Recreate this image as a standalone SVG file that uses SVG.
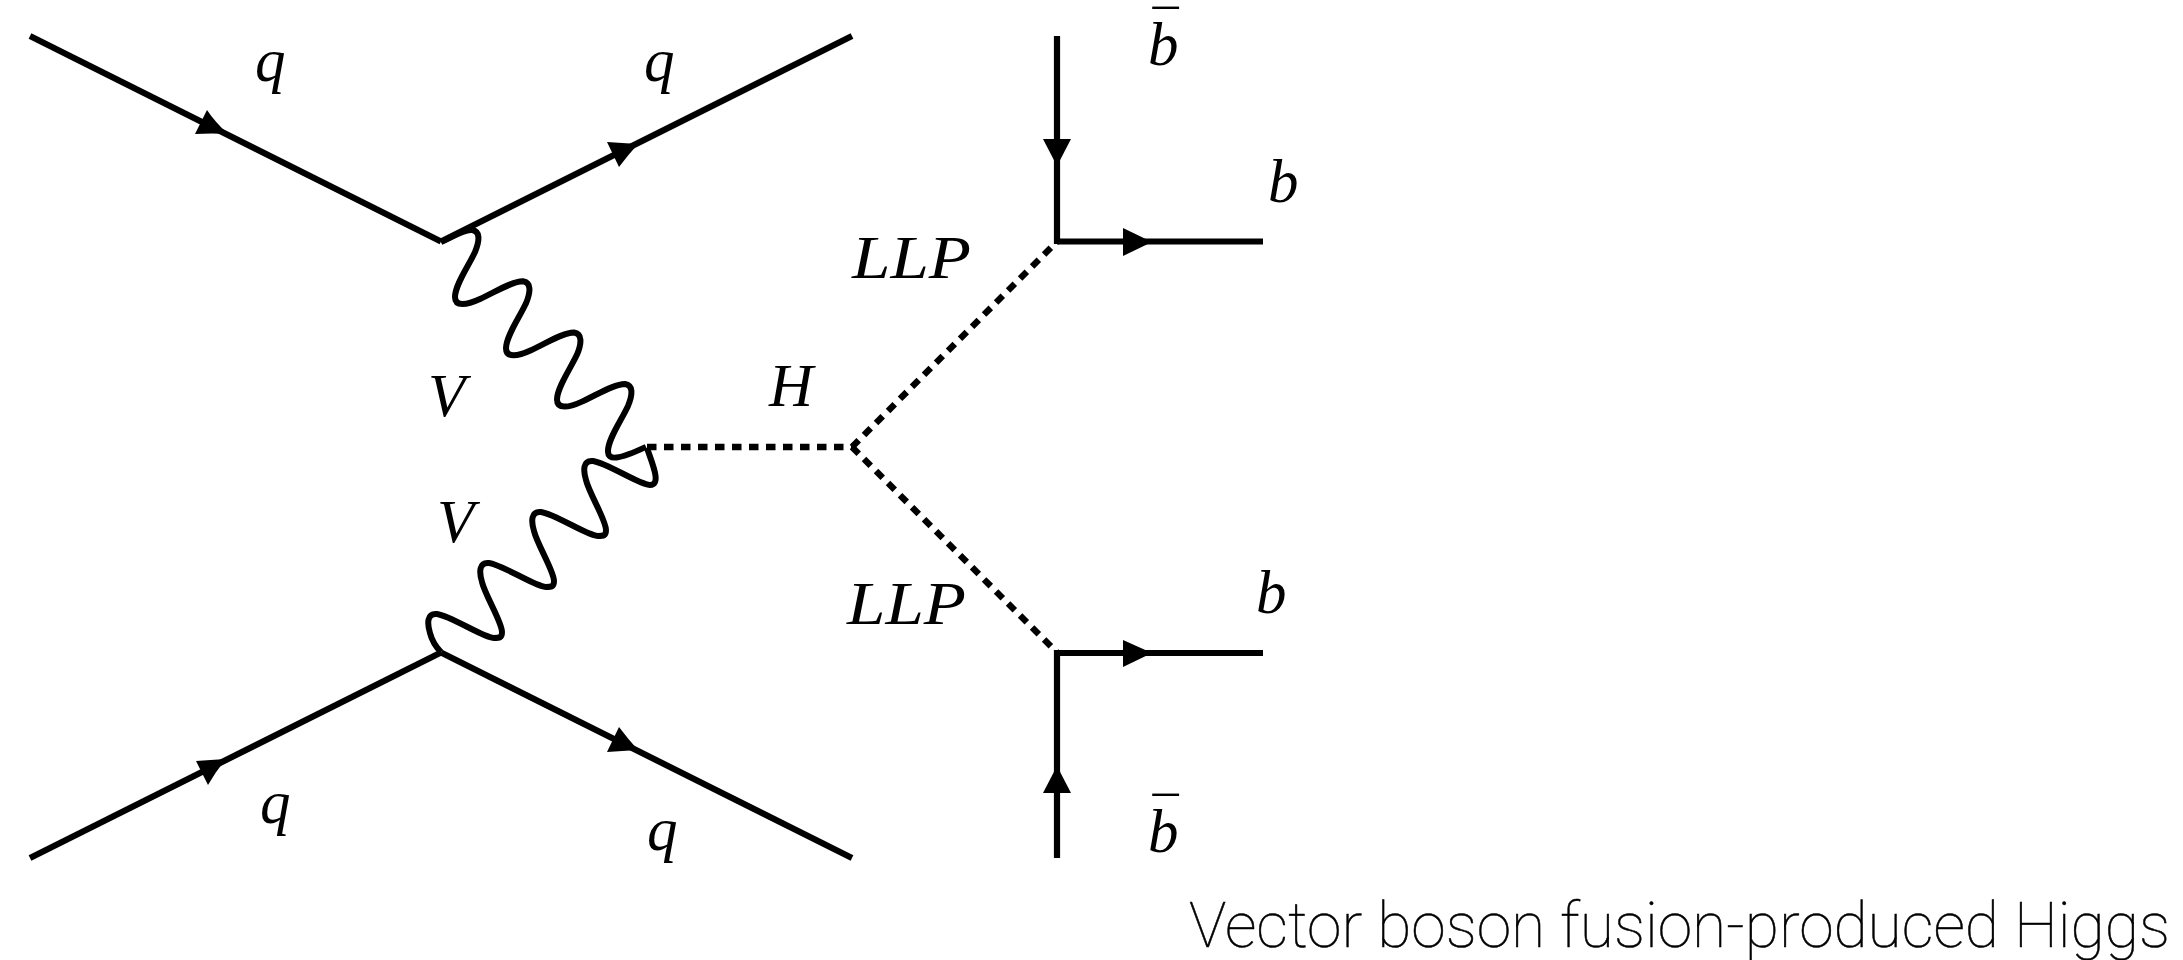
<svg xmlns="http://www.w3.org/2000/svg" width="2183" height="960" viewBox="0 0 2183 960">
<style>
.f{fill:none;stroke:#000;stroke-width:6.2}
.d{fill:none;stroke:#000;stroke-width:6.4;stroke-dasharray:9.5 7.5}
.w{fill:none;stroke:#000;stroke-width:6;stroke-linejoin:round}
.a{fill:#000;stroke:none}
.m{font-family:"Liberation Serif",serif;font-style:italic;font-size:61px;fill:#000}
.t{font-family:Roboto,"Liberation Sans",sans-serif;font-weight:100;font-size:63px;fill:#000;stroke:#000;stroke-width:.5}
.bar{font-size:52px}
</style>
<rect width="2183" height="960" fill="#fff"/>
<g id="connectors">
<line class="f" x1="30" y1="36" x2="441" y2="241.5"/>
<line class="f" x1="441" y1="241.5" x2="852" y2="36"/>
<line class="f" x1="30" y1="858" x2="441" y2="652.5"/>
<line class="f" x1="441" y1="652.5" x2="852" y2="858"/>
<line class="f" x1="1057" y1="36" x2="1057" y2="244"/>
<line class="f" x1="1057" y1="241.5" x2="1263" y2="241.5"/>
<line class="f" x1="1057" y1="858" x2="1057" y2="650"/>
<line class="f" x1="1057" y1="653" x2="1263" y2="653"/>
<line class="d" x1="647" y1="447" x2="852" y2="447"/>
<line class="d" x1="852" y1="447" x2="1057" y2="241.5"/>
<line class="d" x1="852" y1="447" x2="1057" y2="652.5"/>
<path class="w" d="M441,242 C454,236 465,229 472,230 c8,1 8,10 3,22 c-7,15 -20,33 -20,45 c0,10 12,8 25,2 c17,-8 33,-18 43,-17.7 c8,1 8,10 3,22 c-7,15 -20,33 -20,45 c0,10 12,8 25,2 c17,-8 33,-18 43,-17.7 c8,1 8,10 3,22 c-7,15 -20,33 -20,45 c0,10 12,8 25,2 c17,-8 33,-18 43,-17.7 c8,1 8,10 3,22 c-7,15 -20,33 -20,45 c0,10 10,9 38,-4"/>
<path class="w" d="M647,448 C652,463 662,485 650,485 c-10,0 -43,-22 -57,-24 c-10,-1 -10,9 -7,19 c3,13 20,40 20,50 c0,6 -3,6 -8,6 c-10,0 -43,-22 -57,-24 c-10,-1 -10,9 -7,19 c3,13 20,40 20,50 c0,6 -3,6 -8,6 c-10,0 -43,-22 -57,-24 c-10,-1 -10,9 -7,19 c3,13 20,40 20,50 c0,6 -3,6 -8,6 c-10,0 -43,-22 -57,-24 c-10,-1 -10,9 -7,19 c2,8 6,14 11,19"/>
<path class="a" d="M228,134 Q215,122 207,110 L195,134 Q212,133 228,134Z"/>
<path class="a" d="M638,144 Q622,143 607,142 L619,167 Q628,155 638,144Z"/>
<path class="a" d="M226,759 Q210,760 196,761 L208,785 Q216,771 226,759Z"/>
<path class="a" d="M638,750 Q622,751 607,752 L619,727 Q628,739 638,750Z"/>
<polygon class="a" points="1043,139 1071,139 1057,166"/>
<polygon class="a" points="1123,228 1123,256 1152,242"/>
<polygon class="a" points="1043,793 1071,793 1057,766"/>
<polygon class="a" points="1123,640 1123,667 1152,653"/>
</g>
<g id="label-q1"><text class="m" x="255" y="81">q</text></g>
<g id="label-q2"><text class="m" x="644" y="81">q</text></g>
<g id="label-q3"><text class="m" x="260" y="823">q</text></g>
<g id="label-q4"><text class="m" x="647" y="850">q</text></g>
<g id="label-v1"><text class="m" x="428" y="416">V</text></g>
<g id="label-v2"><text class="m" x="437" y="542">V</text></g>
<g id="label-h"><text class="m" x="769" y="406">H</text></g>
<g id="label-llp1"><text class="m" x="852" y="278" textLength="119" lengthAdjust="spacingAndGlyphs">LLP</text></g>
<g id="label-llp2"><text class="m" x="847" y="624" textLength="119" lengthAdjust="spacingAndGlyphs">LLP</text></g>
<g id="label-bbar1"><text class="m" x="1148" y="65">b<tspan class="bar" dx="-30" dy="-18">¯</tspan></text></g>
<g id="label-b1"><text class="m" x="1268" y="202">b</text></g>
<g id="label-b2"><text class="m" x="1256" y="613">b</text></g>
<g id="label-bbar2"><text class="m" x="1148" y="852">b<tspan class="bar" dx="-30" dy="-18">¯</tspan></text></g>
<g id="title"><text class="t" x="1189" y="947" textLength="981" lengthAdjust="spacingAndGlyphs">Vector boson fusion-produced Higgs</text></g>
</svg>
